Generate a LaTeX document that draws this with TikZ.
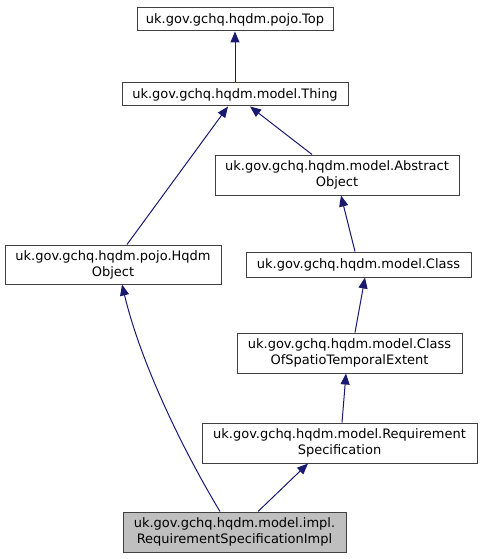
\documentclass[tikz,border=0pt]{standalone}
\usepackage{fontspec}
\setsansfont{DejaVu Sans}
\usepackage{xcolor}
\usetikzlibrary{arrows.meta,positioning,calc}
\definecolor{edgeblue}{HTML}{191970}
\definecolor{implgray}{HTML}{BFBFBF}

\begin{document}
\begin{tikzpicture}[
    x=1pt, y=-1pt,
    cls/.style={rectangle, draw=black!75, line width=1pt, fill=white, align=center,
        font=\sffamily\fontsize{13}{16}\selectfont, inner sep=0pt},
    focus/.style={cls, fill=implgray},
    inherit/.style={-{Triangle[length=11pt,width=9pt]}, draw=edgeblue, line width=1pt}
]
    \useasboundingbox (0,0) rectangle (483,559);

    % Root classes
    \node[cls, minimum width=196pt, minimum height=23pt] (top) at (235,19.5) {uk.gov.gchq.hqdm.pojo.Top};
    \node[cls, minimum width=226pt, minimum height=23pt] (thing) at (235,94.5) {uk.gov.gchq.hqdm.model.Thing};

    % Left branch
    \node[cls, minimum width=216pt, minimum height=39pt] (hqdmobj) at (113,264.5) {uk.gov.gchq.hqdm.pojo.Hqdm\\Object};

    % Right branch
    \node[cls, minimum width=244pt, minimum height=40pt] (absobj) at (337,175) {uk.gov.gchq.hqdm.model.Abstract\\Object};
    \node[cls, minimum width=225pt, minimum height=25pt] (class) at (358.5,264.5) {uk.gov.gchq.hqdm.model.Class};
    \node[cls, minimum width=225pt, minimum height=40pt] (classste) at (349.5,353) {uk.gov.gchq.hqdm.model.Class\\OfSpatioTemporalExtent};
    \node[cls, minimum width=275pt, minimum height=40pt] (reqspec) at (339.5,443) {uk.gov.gchq.hqdm.model.Requirement\\Specification};

    % Implementation class
    \node[focus, minimum width=223pt, minimum height=40pt] (impl) at (234.5,532) {uk.gov.gchq.hqdm.model.impl.\\RequirementSpecificationImpl};

    % Inheritance arrows
    \draw[inherit] (thing.north) -- (top.south);
    \draw[inherit] ([xshift=14pt]hqdmobj.north) -- ([xshift=-7pt]thing.south);
    \draw[inherit] ([xshift=-25pt]absobj.north) -- ([xshift=15pt]thing.south);
    \draw[inherit] ([xshift=-3.5pt]class.north) -- ([xshift=4pt]absobj.south);
    \draw[inherit] ([xshift=5.5pt]classste.north) -- ([xshift=6.5pt]class.south);
    \draw[inherit] ([xshift=2.5pt]reqspec.north) -- ([xshift=-3.5pt]classste.south);
    \draw[inherit] ([xshift=23.5pt]impl.north) -- ([xshift=-31.5pt]reqspec.south);
    \draw[inherit] ([xshift=-14.5pt]impl.north) .. controls (180,445) and (140,360) .. ([xshift=9pt]hqdmobj.south);

\end{tikzpicture}
\end{document}
